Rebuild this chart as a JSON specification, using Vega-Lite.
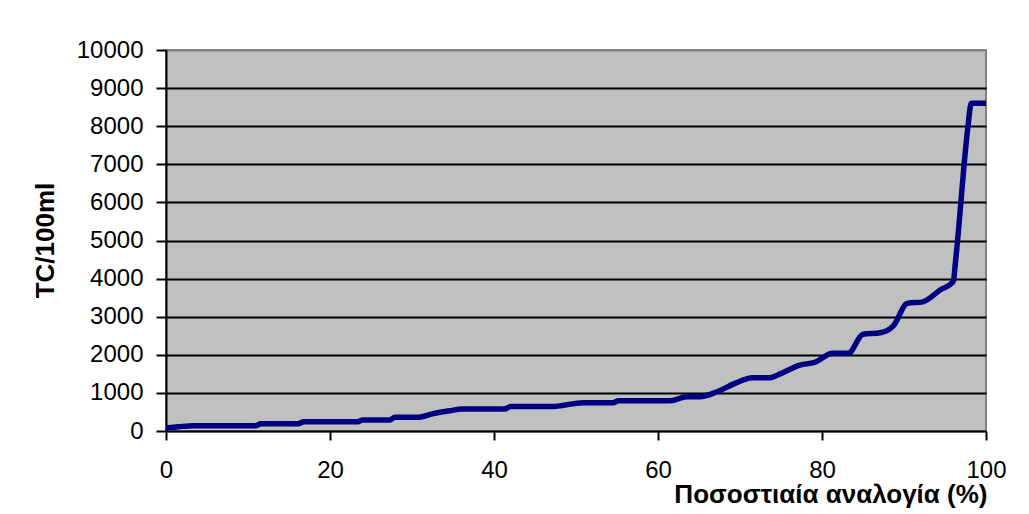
{
  "$schema": "https://vega.github.io/schema/vega-lite/v6.json",
  "width": 820,
  "height": 381,
  "autosize": {"type": "none"},
  "padding": {"left": 166, "top": 50, "right": 43, "bottom": 83},
  "background": "white",
  "config": {
    "font": "Liberation Sans",
    "view": {"fill": "#C0C0C0", "stroke": "#808080", "strokeWidth": 2}
  },
  "data": {
    "values": [
      {"pct": 0, "tc": 80},
      {"pct": 1.5, "tc": 110},
      {"pct": 3.3, "tc": 140},
      {"pct": 10.9, "tc": 140},
      {"pct": 11.6, "tc": 190},
      {"pct": 16.1, "tc": 190},
      {"pct": 16.8, "tc": 245},
      {"pct": 23.4, "tc": 245},
      {"pct": 24.0, "tc": 290},
      {"pct": 27.3, "tc": 290},
      {"pct": 27.9, "tc": 360},
      {"pct": 30.7, "tc": 360},
      {"pct": 32.5, "tc": 450},
      {"pct": 34.6, "tc": 530},
      {"pct": 36.1, "tc": 577},
      {"pct": 41.3, "tc": 577},
      {"pct": 42.0, "tc": 640},
      {"pct": 47.0, "tc": 640},
      {"pct": 50.9, "tc": 743},
      {"pct": 54.5, "tc": 743},
      {"pct": 55.2, "tc": 795},
      {"pct": 61.5, "tc": 795},
      {"pct": 63.5, "tc": 900},
      {"pct": 65.1, "tc": 900},
      {"pct": 67.2, "tc": 1030},
      {"pct": 69.6, "tc": 1270},
      {"pct": 71.5, "tc": 1400},
      {"pct": 73.7, "tc": 1400},
      {"pct": 74.6, "tc": 1470},
      {"pct": 77.3, "tc": 1730},
      {"pct": 79.1, "tc": 1800},
      {"pct": 81.3, "tc": 2040},
      {"pct": 83.2, "tc": 2040},
      {"pct": 85.0, "tc": 2540},
      {"pct": 87.1, "tc": 2580},
      {"pct": 88.7, "tc": 2760},
      {"pct": 90.4, "tc": 3350},
      {"pct": 92.3, "tc": 3390},
      {"pct": 94.4, "tc": 3700},
      {"pct": 96.0, "tc": 3920},
      {"pct": 96.3, "tc": 4490},
      {"pct": 97.8, "tc": 7990},
      {"pct": 98.2, "tc": 8600},
      {"pct": 100, "tc": 8600}
    ]
  },
  "mark": {"type": "line", "color": "#000080", "strokeWidth": 5.5, "interpolate": "monotone", "clip": true},
  "encoding": {
    "x": {
      "field": "pct",
      "type": "quantitative",
      "scale": {"domain": [0, 100], "nice": false, "zero": false},
      "axis": {
        "values": [0, 20, 40, 60, 80, 100],
        "grid": false,
        "domainColor": "black",
        "domainWidth": 2,
        "tickColor": "black",
        "tickWidth": 2,
        "tickSize": 9,
        "labelFont": "Liberation Sans",
        "labelFontSize": 24,
        "labelColor": "black",
        "labelPadding": 18,
        "labelFlush": false,
        "title": "Ποσοστιαία αναλογία (%)",
        "titleFont": "Liberation Sans",
        "titleFontSize": 26,
        "titleFontWeight": "bold",
        "titleColor": "black",
        "titleAlign": "right",
        "titleBaseline": "alphabetic",
        "titleX": 821,
        "titleY": 71
      }
    },
    "y": {
      "field": "tc",
      "type": "quantitative",
      "scale": {"domain": [0, 10000], "nice": false},
      "axis": {
        "values": [0, 1000, 2000, 3000, 4000, 5000, 6000, 7000, 8000, 9000, 10000],
        "format": "d",
        "grid": true,
        "gridColor": {"condition": {"test": "datum.value === 10000 || datum.value === 0", "value": "#808080"}, "value": "black"},
        "gridWidth": 2,
        "gridOpacity": 1,
        "domainColor": "black",
        "domainWidth": 2,
        "tickColor": "black",
        "tickWidth": 2,
        "tickSize": 10,
        "labelFont": "Liberation Sans",
        "labelFontSize": 24,
        "labelColor": "black",
        "labelPadding": 13,
        "labelFlush": false,
        "title": "TC/100ml",
        "titleFont": "Liberation Sans",
        "titleFontSize": 26,
        "titleFontWeight": "bold",
        "titleColor": "black",
        "titleAlign": "center",
        "titleBaseline": "alphabetic",
        "titleAngle": 270,
        "titleX": -113,
        "titleY": 190
      }
    }
  }
}
